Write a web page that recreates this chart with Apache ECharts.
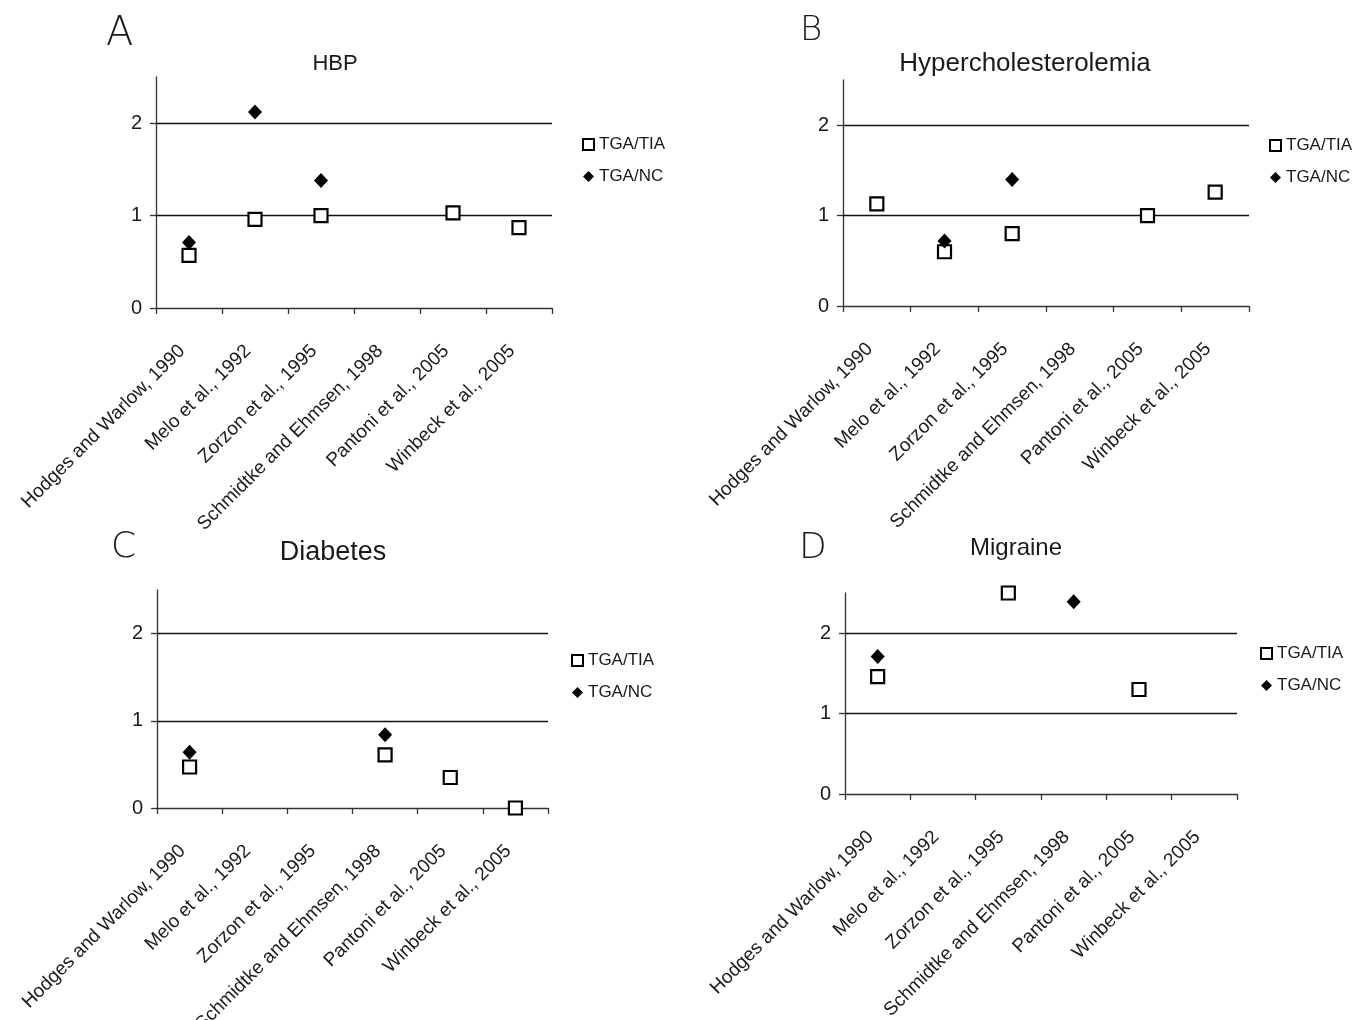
<!DOCTYPE html>
<html>
<head>
<meta charset="utf-8">
<script src="https://cdn.jsdelivr.net/npm/echarts@6/dist/echarts.min.js"></script>
<style>
	html, body { margin: 0; padding: 0; background: #fff; }
	#main { width: 1356px; height: 1020px; }
</style>
</head>
<body>
<div id="main"></div>
<script type="text/javascript">
// studies (x categories), same for all four panels
var categories = ['Hodges and Warlow, 1990', 'Melo et al., 1992', 'Zorzon et al., 1995',
	'Schmidtke and Ehmsen, 1998', 'Pantoni et al., 2005', 'Winbeck et al., 2005'];
var yTicks = [0, 1, 2];
var refLines = [1, 2];
var yMax = 2.5;

// A - HBP
var hbpTIA = [0.57, 0.96, 1.00, null, 1.03, 0.87];
var hbpNC  = [0.71, 2.12, 1.38, null, null, null];
// B - Hypercholesterolemia
var cholTIA = [1.13, 0.60, 0.80, null, 1.00, 1.26];
var cholNC  = [null, 0.72, 1.40, null, null, null];
// C - Diabetes
var diabTIA = [0.47, null, null, 0.61, 0.35, 0.00];
var diabNC  = [0.64, null, null, 0.84, null, null];
// D - Migraine
var migTIA = [1.46, null, 2.50, null, 1.30, null];
var migNC  = [1.71, null, null, 2.39, null, null];

var FONT = "'Liberation Sans', Arial, sans-serif";
var INK = '#1a1a1a';

// layout of each panel (pixels)
var panels = [
	{letter: 'A', name: 'HBP', tia: hbpTIA, nc: hbpNC,
		grid: {left: 156, top: 77, width: 396, height: 231},
		titleX: 335, titleY: 53, titleSize: 22, letterX: 106, letterY: 15, letterSize: 40,
		legendX: 582, legendY: 136},
	{letter: 'B', name: 'Hypercholesterolemia', tia: cholTIA, nc: cholNC,
		grid: {left: 843, top: 80, width: 406, height: 226},
		titleX: 1025, titleY: 51, titleSize: 26, letterX: 800, letterY: 14, letterSize: 34,
		legendX: 1269, legendY: 137},
	{letter: 'C', name: 'Diabetes', tia: diabTIA, nc: diabNC,
		grid: {left: 157, top: 590, width: 391, height: 218},
		titleX: 333, titleY: 539, titleSize: 27, letterX: 111, letterY: 530, letterSize: 36,
		legendX: 571, legendY: 652},
	{letter: 'D', name: 'Migraine', tia: migTIA, nc: migNC,
		grid: {left: 845, top: 593, width: 392, height: 201},
		titleX: 1016, titleY: 536, titleSize: 24, letterX: 799, letterY: 531, letterSize: 36,
		legendX: 1260, legendY: 645}
];

var option = {
	animation: false,
	backgroundColor: '#fff',
	textStyle: {fontFamily: FONT, color: INK},
	title: [], grid: [], xAxis: [], yAxis: [], legend: [], series: []
};

panels.forEach(function (p, i) {
	option.title.push({
		text: p.letter, left: p.letterX, top: p.letterY, padding: 0,
		textStyle: {fontFamily: "'DejaVu Sans', sans-serif", fontWeight: 200, fontSize: p.letterSize, color: INK}
	});
	option.title.push({
		text: p.name, left: p.titleX, top: p.titleY, textAlign: 'center', padding: 0,
		textStyle: {fontFamily: FONT, fontWeight: 'normal', fontSize: p.titleSize, color: INK}
	});
	option.grid.push({
		left: p.grid.left, top: p.grid.top, width: p.grid.width, height: p.grid.height,
		containLabel: false, outerBoundsMode: 'none'
	});
	option.xAxis.push({
		type: 'category', gridIndex: i, data: categories, boundaryGap: true,
		axisLine: {show: true, lineStyle: {color: '#333', width: 1.3}},
		axisTick: {show: true, interval: 0, length: 6, lineStyle: {color: '#333', width: 1.3}},
		axisLabel: {interval: 0, rotate: 45, margin: 33, padding: [0, 10, 0, 0],
			fontSize: 19, color: INK, fontFamily: FONT},
		splitLine: {show: false}
	});
	option.yAxis.push({
		type: 'value', gridIndex: i, min: 0, max: yMax,
		axisLine: {show: true, lineStyle: {color: '#333', width: 1.3}},
		axisTick: {show: true, length: 6, customValues: yTicks, lineStyle: {color: '#333', width: 1.3}},
		axisLabel: {customValues: yTicks, margin: 14, fontSize: 20, color: INK, fontFamily: FONT},
		splitLine: {show: false}
	});
	option.legend.push({
		orient: 'vertical', left: p.legendX, top: p.legendY, padding: 0,
		itemWidth: 11, itemHeight: 11, itemGap: 15,
		textStyle: {fontSize: 17, color: INK, fontFamily: FONT},
		selectedMode: false,
		data: [
			{name: 'TGA/TIA', icon: 'rect', itemStyle: {color: '#fff', borderColor: '#000', borderWidth: 2}},
			{name: 'TGA/NC', icon: 'diamond', itemStyle: {color: '#000', borderWidth: 0}}
		]
	});
	option.series.push({
		name: 'TGA/TIA', type: 'scatter', xAxisIndex: i, yAxisIndex: i,
		data: p.tia, symbol: 'rect', symbolSize: 13, clip: false, z: 3,
		itemStyle: {color: '#fff', borderColor: '#000', borderWidth: 2.2, opacity: 1},
		markLine: {
			silent: true, symbol: 'none', label: {show: false}, z: 1,
			lineStyle: {color: '#111', width: 1.4, type: 'solid'},
			data: refLines.map(function (v) { return {yAxis: v}; })
		}
	});
	option.series.push({
		name: 'TGA/NC', type: 'scatter', xAxisIndex: i, yAxisIndex: i,
		data: p.nc, symbol: 'diamond', symbolSize: [14, 15], clip: false, z: 4,
		itemStyle: {color: '#000', opacity: 1}
	});
});

var myChart = echarts.init(document.getElementById('main'), null, {renderer: 'canvas'});
myChart.setOption(option);
</script>
</body>
</html>
